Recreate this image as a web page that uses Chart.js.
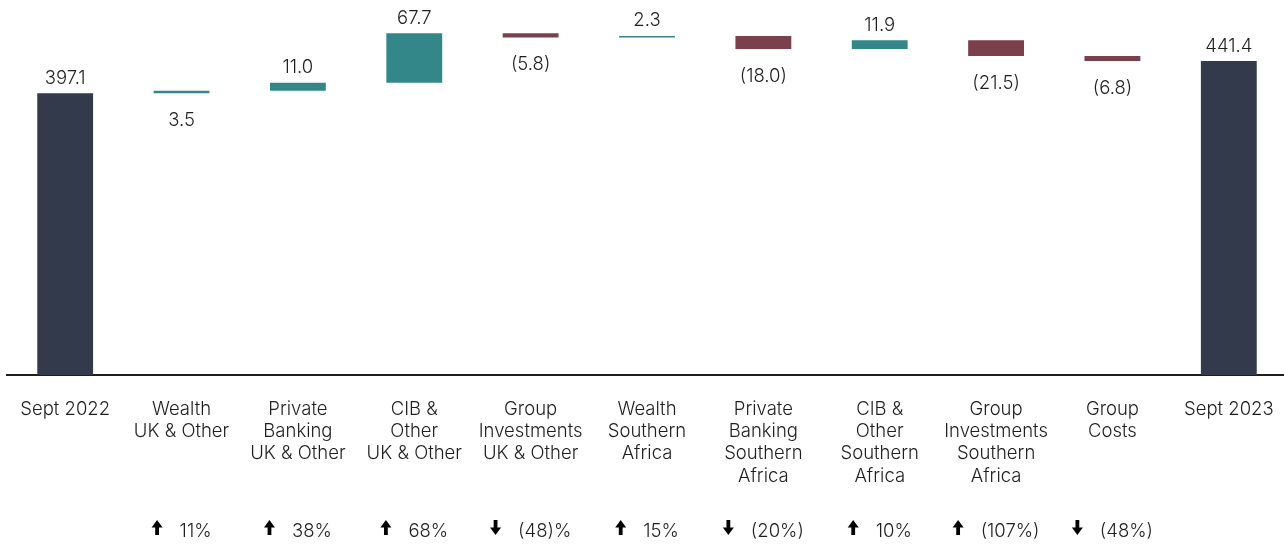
<!DOCTYPE html>
<html>
<head>
<meta charset="utf-8">
<script src="https://cdn.jsdelivr.net/npm/chart.js@4"></script>
<style>
  html, body { margin: 0; padding: 0; background: #ffffff; overflow: hidden; }
  #wrap { width: 1287px; height: 544px; position: relative; }
</style>
</head>
<body>
<div id="wrap"><canvas id="c"></canvas></div>
<script>
// ---- data ----
const categories = [
  ['Sept 2022'],
  ['Wealth', 'UK & Other'],
  ['Private', 'Banking', 'UK & Other'],
  ['CIB &', 'Other', 'UK & Other'],
  ['Group', 'Investments', 'UK & Other'],
  ['Wealth', 'Southern', 'Africa'],
  ['Private', 'Banking', 'Southern', 'Africa'],
  ['CIB &', 'Other', 'Southern', 'Africa'],
  ['Group', 'Investments', 'Southern', 'Africa'],
  ['Group', 'Costs'],
  ['Sept 2023']
];
const startTotal = 397.1;
const changes = [3.5, 11.0, 67.7, -5.8, 2.3, -18.0, 11.9, -21.5, -6.8];
const endTotal = 441.4;
const valueLabels = ['397.1', '3.5', '11.0', '67.7', '(5.8)', '2.3', '(18.0)', '11.9', '(21.5)', '(6.8)', '441.4'];
const labelSide = ['above', 'below', 'above', 'above', 'below', 'above', 'below', 'above', 'below', 'below', 'above'];
const pctLabels = ['', '11%', '38%', '68%', '(48)%', '15%', '(20%)', '10%', '(107%)', '(48%)', ''];
const pctArrows = ['', 'up', 'up', 'up', 'down', 'up', 'down', 'up', 'up', 'down', ''];

// ---- build floating bars ----
const COL_TOTAL = '#333a4c';
const COL_UP = '#338788';
const COL_DOWN = '#7b404d';
const ranges = [];
const colors = [];
ranges.push([0, startTotal]);
colors.push(COL_TOTAL);
let run = startTotal;
changes.forEach(v => {
  ranges.push([run, run + v]);
  colors.push(v >= 0 ? COL_UP : COL_DOWN);
  run += v;
});
ranges.push([0, endTotal]);
colors.push(COL_TOTAL);

const FONT = '"Inter", "Roboto", sans-serif';
const FS = 18.5;

function drawArrow(ctx, x, yc, dir) {
  // x: left edge, yc: vertical centre
  const w = 11, h = 15, headH = 7.5, shaft = 3.8;
  const s = dir === 'up' ? 1 : -1;
  const tipY = yc - s * h / 2;
  const baseY = yc + s * h / 2;
  const headBase = tipY + s * headH;
  const cx = x + w / 2;
  ctx.beginPath();
  ctx.moveTo(cx, tipY);
  ctx.lineTo(x + w, headBase);
  ctx.lineTo(cx + shaft / 2, headBase);
  ctx.lineTo(cx + shaft / 2, baseY);
  ctx.lineTo(cx - shaft / 2, baseY);
  ctx.lineTo(cx - shaft / 2, headBase);
  ctx.lineTo(x, headBase);
  ctx.closePath();
  ctx.fill();
}

const labelPlugin = {
  id: 'wfLabels',
  afterDatasetsDraw(chart) {
    const ctx = chart.ctx;
    const meta = chart.getDatasetMeta(0);
    ctx.save();
    ctx.font = '300 ' + FS + 'px ' + FONT;
    ctx.fillStyle = '#1e1e1e';
    ctx.textAlign = 'center';
    ctx.textBaseline = 'middle';
    meta.data.forEach((bar, i) => {
      const top = Math.min(bar.y, bar.base);
      const bottom = Math.max(bar.y, bar.base);
      const y = labelSide[i] === 'above' ? top - 15 : bottom + 27;
      ctx.fillText(valueLabels[i], bar.x, y);
    });
    // percentage row
    const yRow = 531;
    ctx.textAlign = 'left';
    meta.data.forEach((bar, i) => {
      if (!pctLabels[i]) return;
      const aw = 11;
      const gap = 17;
      const tw = ctx.measureText(pctLabels[i]).width;
      const total = aw + gap + tw;
      const x0 = bar.x - total / 2;
      ctx.fillStyle = '#000000';
      drawArrow(ctx, x0, yRow - 3.5, pctArrows[i]);
      ctx.fillStyle = '#1e1e1e';
      ctx.fillText(pctLabels[i], x0 + aw + gap, yRow);
    });
    ctx.restore();
  }
};

new Chart(document.getElementById('c'), {
  type: 'bar',
  data: {
    labels: categories,
    datasets: [{
      data: ranges,
      backgroundColor: colors,
      borderWidth: 0,
      barPercentage: 0.48,
      categoryPercentage: 1.0
    }]
  },
  options: {
    responsive: true,
    maintainAspectRatio: false,
    animation: false,
    layout: { padding: { left: 7, right: 0, top: 0, bottom: 0 } },
    plugins: { legend: { display: false }, tooltip: { enabled: false } },
    scales: {
      x: {
        grid: { display: false, drawTicks: false },
        border: { display: true, color: '#1e1e1e', width: 2 },
        ticks: {
          color: '#1e1e1e',
          font: { family: FONT, size: FS, weight: 300, lineHeight: 1.205 },
          padding: 23,
          maxRotation: 0,
          autoSkip: false
        },
        afterFit(scale) {
          scale.height = 169;
          scale.paddingLeft = 0;
          scale.paddingRight = 0;
        }
      },
      y: {
        display: false,
        min: 11,
        max: 525
      }
    }
  },
  plugins: [labelPlugin]
});
</script>
</body>
</html>
